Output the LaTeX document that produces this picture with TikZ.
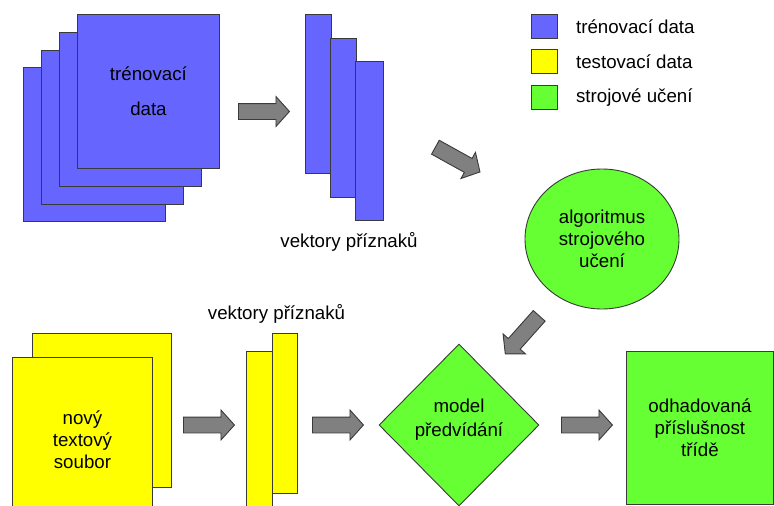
\documentclass[tikz,border=0pt]{standalone}
\usepackage{fontspec}
\setmainfont{Liberation Sans}
\usetikzlibrary{shapes.geometric, shapes.arrows, positioning}

\definecolor{trainblue}{HTML}{6666FF}
\definecolor{testyellow}{HTML}{FFFF00}
\definecolor{mlgreen}{HTML}{66FF33}
\definecolor{edgegray}{HTML}{3A3A3A}
\definecolor{arrowgray}{HTML}{808080}

\tikzset{
  sheet/.style={draw=edgegray, line width=0.9pt, inner sep=0pt, anchor=north west,
    minimum width=142pt, minimum height=154pt, align=center},
  vecbar/.style={draw=edgegray, line width=0.9pt, inner sep=0pt, anchor=north west,
    minimum width=26pt, minimum height=159pt},
  legendbox/.style={draw=edgegray, line width=0.9pt, inner sep=0pt, anchor=north west,
    minimum width=26pt, minimum height=24pt},
  fatarrow/.style={single arrow, draw=edgegray, fill=arrowgray, line width=0.9pt,
    inner xsep=0pt, inner ysep=7.5pt, minimum height=51pt, anchor=tail,
    single arrow head extend=7pt, single arrow tip angle=96},
}

\begin{document}
\begin{tikzpicture}[x=1pt, y=-1pt,
    every node/.style={font=\fontsize{18.7}{22}\selectfont}]
    \useasboundingbox (0,0) rectangle (774,506);
    \clip (0,0) rectangle (774,506);

    % training documents
    \node[sheet, fill=trainblue] (train1) at (23,67) {};
    \node[sheet, fill=trainblue] (train2) at (41,50) {};
    \node[sheet, fill=trainblue] (train3) at (59,32) {};
    \node[sheet, fill=trainblue] (train4) at (77,14) {trénovací\\[13pt]data};

    \node[fatarrow] (arr1) at (238,111.5) {};

    % training feature vectors
    \node[vecbar, fill=trainblue] (trainvec1) at (305,14) {};
    \node[vecbar, fill=trainblue] (trainvec2) at (330,38) {};
    \node[vecbar, fill=trainblue, minimum width=28pt] (trainvec3) at (355,61) {};
    \node (trainveclabel) at (349,242) {vektory příznaků};

    % legend
    \node[legendbox, fill=trainblue] (legtrain) at (531,14) {};
    \node[legendbox, fill=testyellow] (legtest) at (531,49) {};
    \node[legendbox, fill=mlgreen] (legml) at (531,85) {};
    \node[right=18pt of legtrain, inner sep=0pt] {trénovací data};
    \node[right=18pt of legtest, inner sep=0pt] {testovací data};
    \node[right=18pt of legml, inner sep=0pt] {strojové učení};

    \node[fatarrow, rotate=-29] (arr2) at (435,147) {};

    % learning algorithm
    \node[ellipse, draw=edgegray, fill=mlgreen, line width=0.9pt, inner sep=0pt,
      minimum width=154pt, minimum height=140pt, align=center]
      (algo) at (602,239) {algoritmus\\strojového\\učení};

    \node[fatarrow, rotate=-131.7] (arr3) at (539.5,315.5) {};

    % new text file
    \node[sheet, fill=testyellow, minimum width=139pt] (test2) at (32,333) {};
    \node[sheet, fill=testyellow, minimum width=140pt, minimum height=165pt]
      (test1) at (12,357) {nový\\textový\\soubor};

    \node[fatarrow] (arr4) at (183,425) {};

    % test feature vectors
    \node[vecbar, fill=testyellow, minimum width=25pt, minimum height=160pt] (testvec2) at (272,333) {};
    \node[vecbar, fill=testyellow, minimum height=165pt] (testvec1) at (246,351) {};
    \node (testveclabel) at (276.5,314) {vektory příznaků};

    \node[fatarrow] (arr5) at (312,425) {};

    % prediction model
    \node[diamond, draw=edgegray, fill=mlgreen, line width=0.9pt, inner sep=0pt,
      minimum width=160pt, minimum height=162pt] (model) at (459,425) {};
    \node[align=center] (modeltext) at ([yshift=5pt]model.center) {model\\[2pt]předvídání};

    \node[fatarrow] (arr6) at (561,425) {};

    % predicted class
    \node[sheet, fill=mlgreen, minimum width=147pt, minimum height=153pt]
      (result) at (626,351) {odhadovaná\\příslušnost\\třídě};
\end{tikzpicture}
\end{document}
